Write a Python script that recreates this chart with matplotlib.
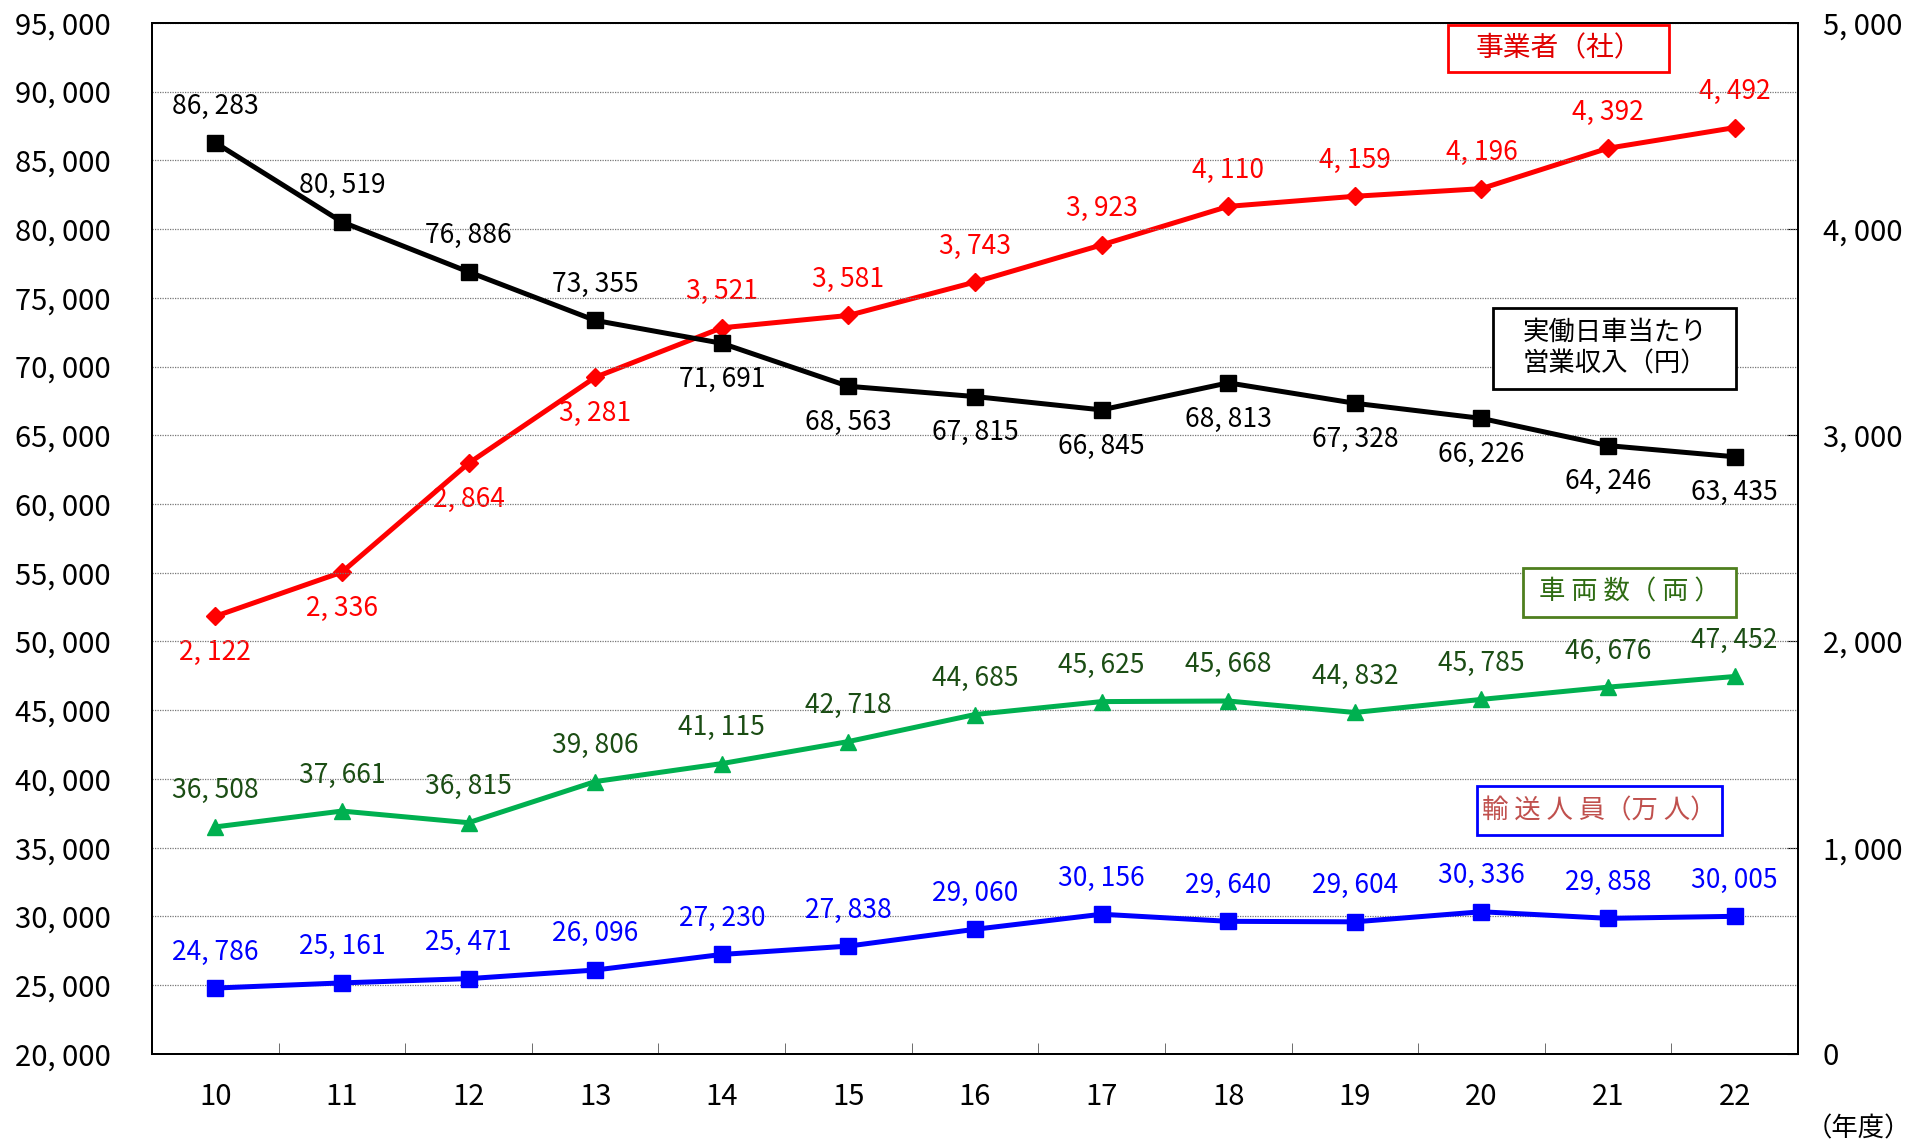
import matplotlib
matplotlib.use("Agg")
import matplotlib.pyplot as plt
from matplotlib.patches import Rectangle
from matplotlib.ticker import FixedLocator

plt.rcParams["font.family"] = ["Noto Sans CJK JP", "DejaVu Sans"]

years = ["10", "11", "12", "13", "14", "15", "16", "17", "18", "19", "20", "21", "22"]

# 実働日車当たり営業収入（円） -- left axis
revenue = [86283, 80519, 76886, 73355, 71691, 68563, 67815, 66845, 68813, 67328, 66226, 64246, 63435]
revenue_side = [1, 1, 1, 1, -1, -1, -1, -1, -1, -1, -1, -1, -1]

# 事業者（社） -- right axis
operators = [2122, 2336, 2864, 3281, 3521, 3581, 3743, 3923, 4110, 4159, 4196, 4392, 4492]
operators_side = [-1, -1, -1, -1, 1, 1, 1, 1, 1, 1, 1, 1, 1]

# 車両数（両）
vehicles = [36508, 37661, 36815, 39806, 41115, 42718, 44685, 45625, 45668, 44832, 45785, 46676, 47452]

# 輸送人員（万人）
passengers = [24786, 25161, 25471, 26096, 27230, 27838, 29060, 30156, 29640, 29604, 30336, 29858, 30005]

LEFT_LIM = (20000, 95000)
RIGHT_LIM = (0, 5000)

fig = plt.figure(figsize=(19.24, 11.43), dpi=100)
ax = fig.add_axes([0.079, 0.078, 0.8555, 0.902])
ax2 = ax.twinx()

x = list(range(len(years)))
ax.set_xlim(-0.5, len(years) - 0.5)
ax.set_ylim(*LEFT_LIM)
ax2.set_ylim(*RIGHT_LIM)


def fmt(v):
    return f"{v:,}".replace(",", ", ")


lw = 3.6
ax.plot(x, revenue, "-s", color="black", lw=lw, ms=11, zorder=5)
ax.plot(x, vehicles, "-^", color="#00b050", lw=lw, ms=12, zorder=5)
ax.plot(x, passengers, "-s", color="#0000ff", lw=lw, ms=12, zorder=5)
ax2.plot(x, operators, "-D", color="#ff0000", lw=lw, ms=9, zorder=5)

lab_fs = 19
for xi, v, s in zip(x, revenue, revenue_side):
    ax.annotate(fmt(v), (xi, v), xytext=(0, 26 * s), textcoords="offset points",
                ha="center", va="center", fontsize=lab_fs, color="black")
for xi, v in zip(x, vehicles):
    ax.annotate(fmt(v), (xi, v), xytext=(0, 26), textcoords="offset points",
                ha="center", va="center", fontsize=lab_fs, color="#1b4d14")
for xi, v in zip(x, passengers):
    ax.annotate(fmt(v), (xi, v), xytext=(0, 26), textcoords="offset points",
                ha="center", va="center", fontsize=lab_fs, color="#0000ff")
for xi, v, s in zip(x, operators, operators_side):
    ax2.annotate(fmt(v), (xi, v), xytext=(0, 26 * s), textcoords="offset points",
                 ha="center", va="center", fontsize=lab_fs, color="#ff0000")

# axes styling
left_ticks = list(range(LEFT_LIM[0], LEFT_LIM[1] + 1, 5000))
ax.set_yticks(left_ticks)
ax.set_yticklabels([fmt(v) for v in left_ticks], fontsize=21)
ax.tick_params(axis="y", length=0, pad=30)
ax.grid(axis="y", color="#777777", ls=(0, (1, 1)), lw=0.9)
right_ticks = list(range(RIGHT_LIM[0], RIGHT_LIM[1] + 1, 1000))
ax2.set_yticks(right_ticks)
ax2.set_yticklabels([fmt(v) for v in right_ticks], fontsize=21)
ax2.tick_params(axis="y", direction="in", length=8, pad=18)

ax.set_xticks(x)
ax.set_xticklabels(years, fontsize=21)
ax.tick_params(axis="x", length=0, pad=20)
ax.xaxis.set_minor_locator(FixedLocator([i + 0.5 for i in range(len(years) - 1)]))
ax.tick_params(axis="x", which="minor", direction="in", length=8, color="#555555")

for a in (ax, ax2):
    for sp in a.spines.values():
        sp.set_linewidth(1.4)
        sp.set_color("black")

ax.set_zorder(ax2.get_zorder() + 1)
ax.patch.set_visible(False)


# series captions: boxes given in figure fractions (x0, y0, w, h)
def caption(text, box, edge, color, fs=19):
    x0, y0, w, h = box
    fig.patches.append(Rectangle((x0, y0), w, h, transform=fig.transFigure,
                                 fc="white", ec=edge, lw=2, zorder=10))
    fig.text(x0 + w / 2, y0 + h / 2, text, fontsize=fs, color=color,
             ha="center", va="center", zorder=11, linespacing=1.2)


caption("事業者（社）", (0.7526, 0.9367, 0.1148, 0.0418), "#ff0000", "#e00000", fs=20)
caption("実働日車当たり\n営業収入（円）", (0.7762, 0.6599, 0.1263, 0.0708), "black", "black")
caption("車 両 数（ 両 ）", (0.7915, 0.4603, 0.1110, 0.0429), "#4e7f1e", "#2e6b12")
caption("輸 送 人 員（万 人）", (0.7679, 0.2693, 0.1269, 0.0429), "#0000ff", "#c0504d")

fig.text(0.9660, 0.012, "（年度）", fontsize=19, ha="center", va="center", color="black")

fig.savefig("out.png", dpi=100)
